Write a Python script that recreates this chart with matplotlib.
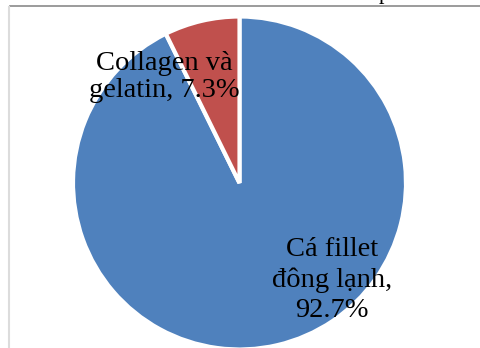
import matplotlib
matplotlib.use("Agg")
import matplotlib.pyplot as plt
from matplotlib.lines import Line2D

# data
categories = ["Cá fillet\nđông lạnh", "Collagen và\ngelatin"]
shares = [92.7, 7.3]
colors = ["#4F81BD", "#C0504D"]

W, H = 480, 348
fig = plt.figure(figsize=(W / 100, H / 100), dpi=100)
ax = fig.add_axes([0, 0, 1, 1])

# pie in pixel space (y up)
ax.pie(shares, colors=colors, startangle=90, counterclock=False,
       center=(239.5, H - 183), radius=166.5,
       wedgeprops=dict(edgecolor="white", linewidth=3))
# pie() resets the limits, so set them afterwards
ax.set_xlim(0, W)
ax.set_ylim(0, H)
ax.set_aspect("equal")
ax.axis("off")

serif = "Liberation Serif"
labels = [f"{c}, {s}%".replace("lạnh, ", "lạnh,\n") for c, s in zip(categories, shares)]
label_tops = [(332, H - 237), (164, H - 51)]
spacing = [1.28, 1.12]
for txt, (x, y), ls in zip(labels, label_tops, spacing):
    ax.text(x, y, txt, ha="center", va="top", family=serif, fontsize=20.5,
            linespacing=ls, multialignment="center")

# frame bits from the cropped document
fig.add_artist(Line2D([10 / W, 1], [1 - 5.5 / H, 1 - 5.5 / H],
                      transform=fig.transFigure, color="#8a8a8a", lw=1.2))
fig.add_artist(Line2D([8.5 / W, 8.5 / W], [0, 1 - 7 / H],
                      transform=fig.transFigure, color="#dcdcdc", lw=1.5))
fig.text(379 / W, 1 + 1 / H, "p", family=serif, fontsize=16, va="baseline")

fig.savefig("out.png", dpi=100)
